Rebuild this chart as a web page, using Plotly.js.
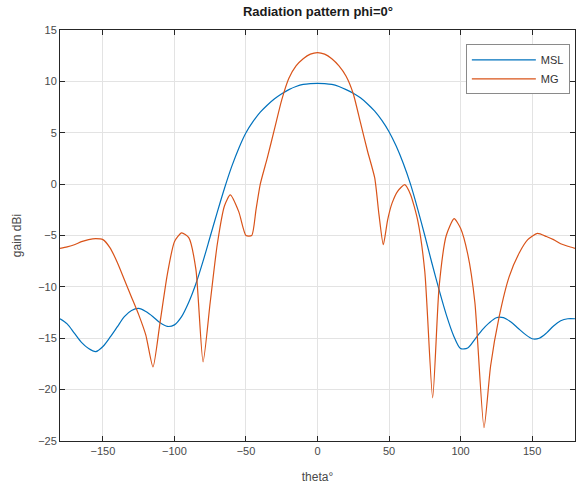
<!DOCTYPE html>
<html>
<head>
<meta charset="utf-8">
<script src="https://cdn.plot.ly/plotly-3.0.1.min.js"></script>
<style>html,body{margin:0;padding:0;background:#fff;}#chart{width:577px;height:490px;}</style>
</head>
<body>
<div id="chart"></div>
<script>
// MSL series (theta in degrees, gain in dBi)
const thetaMSL = [-180,-175,-170,-165,-160,-155,-150,-145,-140,-135,-130,-125,-120,-115,-110,-105,-100,-95,-90,-85,-80,-75,-70,-65,-60,-55,-50,-45,-40,-35,-30,-25,-20,-15,-10,-5,0,5,10,15,20,25,30,35,40,45,50,55,60,65,70,75,80,85,90,95,100,105,110,115,120,125,130,135,140,145,150,155,160,165,170,175,180];
const gainMSL = [-13.1,-13.6,-14.5,-15.4,-16.0,-16.3,-15.8,-14.9,-13.9,-12.9,-12.3,-12.1,-12.4,-12.9,-13.5,-13.85,-13.7,-12.9,-11.5,-9.7,-7.5,-5.1,-2.7,-0.4,1.7,3.5,5.0,6.1,7.0,7.7,8.3,8.8,9.2,9.5,9.7,9.78,9.8,9.78,9.7,9.5,9.2,8.85,8.4,7.8,7.1,6.2,5.1,3.7,2.0,0.0,-2.4,-5.0,-7.7,-10.3,-12.7,-14.7,-16.0,-15.95,-15.1,-14.2,-13.5,-13.0,-13.0,-13.4,-14.0,-14.6,-15.05,-15.0,-14.5,-13.8,-13.3,-13.1,-13.1];

// MG series
const thetaMG = [-180,-175,-170,-165,-160,-155,-150,-145,-140,-135,-130,-125,-120,-115,-110,-105,-100,-95,-90,-85,-80,-75,-70,-65,-61,-55,-50,-46,-43,-40,-35,-30,-25,-20,-15,-10,-5,0,5,10,15,20,25,30,35,40,43,46,49,52,56,61,65,70,75,80.5,85,90,95.5,100,105,110,116.4,121,127,134,141,147,153.7,160,165,170,175,180];
const gainMG = [-6.25,-6.1,-5.9,-5.6,-5.4,-5.3,-5.4,-6.2,-7.6,-9.3,-11.0,-12.7,-14.7,-17.8,-13.4,-8.8,-5.6,-4.75,-5.2,-8.3,-17.3,-11.5,-5.8,-2.1,-1.05,-2.7,-5.0,-5.0,-2.5,0.0,2.6,5.4,8.2,10.3,11.5,12.2,12.65,12.8,12.65,12.2,11.5,10.5,8.8,6.0,3.2,0.6,-3.0,-5.9,-3.5,-1.9,-0.7,-0.05,-1.0,-3.5,-8.5,-20.8,-10.0,-5.0,-3.35,-4.3,-6.8,-11.5,-23.7,-17.7,-12.9,-9.0,-6.7,-5.4,-4.8,-5.1,-5.4,-5.8,-6.05,-6.25];

const xTicks = [-150,-100,-50,0,50,100,150];
const yTicks = [-25,-20,-15,-10,-5,0,5,10,15];

const font = "Liberation Sans, Arial, sans-serif";
const axisCommon = {
  showline: true, linecolor: '#262626', linewidth: 1, mirror: 'ticks',
  ticks: 'inside', ticklen: 5, tickcolor: '#262626', tickwidth: 1,
  showgrid: true, gridcolor: '#e3e3e3', gridwidth: 1,
  zeroline: false, tickfont: {family: font, size: 11, color: '#4a4a4a'}
};

const data = [
  {x: thetaMSL, y: gainMSL, name: 'MSL', type: 'scatter', mode: 'lines',
   line: {color: '#0072BD', width: 1.2, shape: 'spline', smoothing: 0.8}},
  {x: thetaMG, y: gainMG, name: 'MG', type: 'scatter', mode: 'lines',
   line: {color: '#D95319', width: 1.2, shape: 'spline', smoothing: 0.6}}
];

const layout = {
  width: 577, height: 490,
  margin: {l: 60, r: 2, t: 30, b: 49},
  paper_bgcolor: '#ffffff', plot_bgcolor: '#ffffff',
  title: {text: '<b>Radiation pattern phi=0°</b>', font: {family: font, size: 13, color: '#1a1a1a'},
          x: 0.551, xanchor: 'center', y: 0.976, yanchor: 'middle'},
  xaxis: Object.assign({}, axisCommon, {range: [-180, 180], tickvals: xTicks,
          title: {text: 'theta°', font: {family: font, size: 12, color: '#4a4a4a'}, standoff: 16}}),
  yaxis: Object.assign({}, axisCommon, {range: [-25, 15], tickvals: yTicks,
          title: {text: 'gain dBi', font: {family: font, size: 12, color: '#4a4a4a'}, standoff: 13}}),
  showlegend: true,
  legend: {x: 0.99, y: 0.965, xanchor: 'right', yanchor: 'top', bgcolor: '#ffffff',
           bordercolor: '#8a8a8a', borderwidth: 1, font: {family: font, size: 11, color: '#333'},
           tracegroupgap: 0, itemwidth: 64}
};

Plotly.newPlot('chart', data, layout, {displayModeBar: false, staticPlot: true});
</script>
</body>
</html>
